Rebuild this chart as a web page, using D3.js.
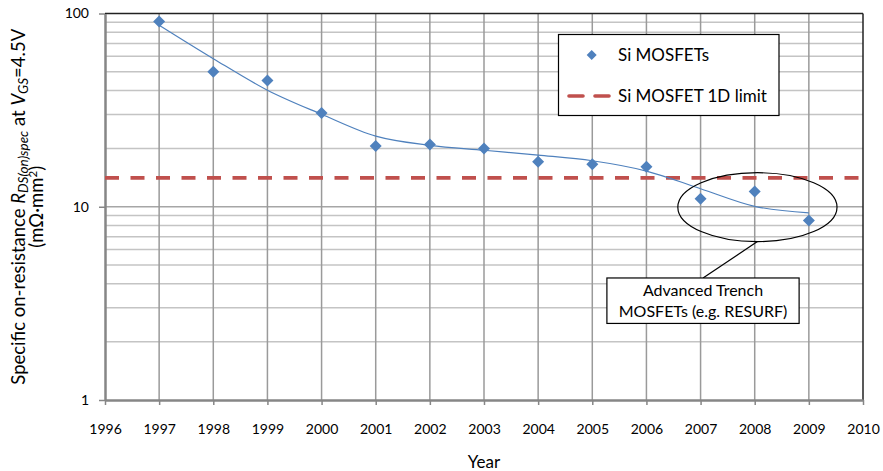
<!DOCTYPE html>
<html>
<head>
<meta charset="utf-8">
<script src="https://cdn.jsdelivr.net/npm/d3@7"></script>
<style>
  html, body { margin: 0; padding: 0; background: #fff; }
  svg { display: block; font-family: Lato, "Open Sans", sans-serif; }
</style>
</head>
<body>
<svg id="chart" width="883" height="471"></svg>
<script>
// Specific on-resistance of Si MOSFETs by year (log scale)
const years = [1997, 1998, 1999, 2000, 2001, 2002, 2003, 2004, 2005, 2006, 2007, 2008, 2009];
const rdsValues = [91, 50, 45, 30.6, 20.6, 21.0, 20.0, 17.1, 16.6, 16.1, 11.0, 12.0, 8.5];
// Smoothed trend through the measurements
const trendValues = [87, 58.4, 40.1, 30.1, 23.2, 20.8, 19.6, 18.5, 17.3, 15.3, 12.4, 10.05, 9.3];
// 1D silicon limit
const limitValue = 14.1;
const xTicks = [1996, 1997, 1998, 1999, 2000, 2001, 2002, 2003, 2004, 2005, 2006, 2007, 2008, 2009, 2010];
const yTicks = [1, 10, 100];

const blue = "#4F81BD";
const red = "#C0504D";

const svg = d3.select("#chart");
const plotL = 105, plotR = 863, plotT = 13.5, plotB = 400;

const x = d3.scaleLinear().domain([1996, 2010]).range([plotL, plotR]);
const y = d3.scaleLog().domain([1, 100]).range([plotB, plotT]);

// Horizontal grid at every 1..9 step of each decade
const gridVals = [];
for (const base of [1, 10]) for (let k = 2; k <= 9; k++) gridVals.push(base * k);
gridVals.push(10);
svg.append("g").selectAll("line").data(gridVals).join("line")
  .attr("x1", plotL).attr("x2", plotR)
  .attr("y1", d => y(d)).attr("y2", d => y(d))
  .attr("stroke", d => d === 10 ? "#a6a6a6" : "#c4c4c4").attr("stroke-width", 1.5);

// Vertical grid at each year
svg.append("g").selectAll("line").data(xTicks.filter(v => v > 1996 && v < 2010)).join("line")
  .attr("x1", d => x(d)).attr("x2", d => x(d))
  .attr("y1", plotT).attr("y2", plotB)
  .attr("stroke", "#9a9a9a").attr("stroke-width", 1.5);

// Plot frame: top and right edges
svg.append("line").attr("x1", plotL).attr("x2", plotR).attr("y1", plotT).attr("y2", plotT)
  .attr("stroke", "#222").attr("stroke-width", 1.5);
svg.append("line").attr("x1", plotR).attr("x2", plotR).attr("y1", plotT).attr("y2", plotB)
  .attr("stroke", "#222").attr("stroke-width", 1.5);

// Axes
const xAxis = svg.append("g").attr("transform", `translate(0,${plotB})`)
  .call(d3.axisBottom(x).tickValues(xTicks).tickFormat(d3.format("d")).tickSize(5).tickSizeOuter(0).tickPadding(19));
const yAxis = svg.append("g").attr("transform", `translate(${plotL},0)`)
  .call(d3.axisLeft(y).tickValues(yTicks).tickFormat(d3.format("d")).tickSize(6).tickSizeOuter(0).tickPadding(10));
for (const g of [xAxis, yAxis]) {
  g.select(".domain").attr("stroke", "#868686").attr("stroke-width", 2.5);
  g.selectAll(".tick line").attr("stroke", "#868686").attr("stroke-width", 1.5);
  g.selectAll(".tick text").attr("fill", "#000").style("font-size", "14px").style("font-family", "Lato, sans-serif");
}

// 1D limit line
svg.append("line")
  .attr("x1", x(1996)).attr("x2", x(2010))
  .attr("y1", y(limitValue)).attr("y2", y(limitValue))
  .attr("stroke", red).attr("stroke-width", 3.6).attr("stroke-dasharray", "14 11.5");

// Trend curve
const trendLine = d3.line().x((d, i) => x(years[i])).y(d => y(d)).curve(d3.curveMonotoneX);
svg.append("path").datum(trendValues)
  .attr("d", trendLine).attr("fill", "none").attr("stroke", blue).attr("stroke-width", 1.2);

// Data points (diamonds)
const diamond = d3.symbol().type(d3.symbolSquare).size(72);
svg.append("g").selectAll("path").data(rdsValues).join("path")
  .attr("d", diamond)
  .attr("transform", (d, i) => `translate(${x(years[i])},${y(d)}) rotate(45)`)
  .attr("fill", blue);

// Annotation: ellipse around the latest devices and callout box
const ell = { year: 2008.05, halfYears: 1.47, hi: 15, lo: 6.6 };
const ecx = x(ell.year), erx = x(ell.year + ell.halfYears) - ecx;
const ecy = (y(ell.hi) + y(ell.lo)) / 2, ery = (y(ell.lo) - y(ell.hi)) / 2;
svg.append("ellipse").attr("cx", ecx).attr("cy", ecy).attr("rx", erx).attr("ry", ery)
  .attr("fill", "none").attr("stroke", "#000").attr("stroke-width", 1.2);

const box = { x0: 2005.27, x1: 2008.82, vTop: 4.28, vBot: 2.49 };
const bx0 = x(box.x0), bx1 = x(box.x1), by0 = y(box.vTop), by1 = y(box.vBot);
svg.append("line")
  .attr("x1", (bx0 + bx1) / 2).attr("y1", by0)
  .attr("x2", ecx).attr("y2", ecy + ery)
  .attr("stroke", "#000").attr("stroke-width", 1.2);
svg.append("rect").attr("x", bx0).attr("y", by0).attr("width", bx1 - bx0).attr("height", by1 - by0)
  .attr("fill", "#fff").attr("stroke", "#000").attr("stroke-width", 1.2);
const callout = svg.append("text").attr("text-anchor", "middle").style("font-size", "16px");
callout.append("tspan").attr("x", (bx0 + bx1) / 2).attr("y", by0 + 18.5).text("Advanced Trench");
callout.append("tspan").attr("x", (bx0 + bx1) / 2).attr("y", by0 + 39.5).text("MOSFETs (e.g. RESURF)");

// Legend
const lg = svg.append("g");
lg.append("rect").attr("x", 558.5).attr("y", 34.5).attr("width", 220.5).attr("height", 81)
  .attr("fill", "#fff").attr("stroke", "#000").attr("stroke-width", 1.2);
lg.append("path").attr("d", d3.symbol().type(d3.symbolSquare).size(50))
  .attr("transform", "translate(591.7,55) rotate(45)").attr("fill", blue);
lg.append("text").attr("x", 618).attr("y", 61).style("font-size", "17px").text("Si MOSFETs");
lg.append("line").attr("x1", 569).attr("x2", 610).attr("y1", 96).attr("y2", 96)
  .attr("stroke", red).attr("stroke-width", 3.6).attr("stroke-dasharray", "14 12").attr("stroke-linecap", "round");
lg.append("text").attr("x", 618).attr("y", 102).style("font-size", "17px").text("Si MOSFET 1D limit");

// Axis titles
svg.append("text").attr("x", (plotL + plotR) / 2).attr("y", 468).attr("text-anchor", "middle")
  .style("font-size", "17px").text("Year");

const midY = (plotT + plotB) / 2;
const yt = svg.append("text").attr("transform", `translate(25,${midY}) rotate(-90)`)
  .attr("text-anchor", "middle").style("font-size", "18.5px");
yt.append("tspan").text("Specific on-resistance ");
yt.append("tspan").attr("font-style", "italic").text("R");
yt.append("tspan").attr("font-style", "italic").attr("dy", 3).style("font-size", "13.5px").text("DS(on)spec");
yt.append("tspan").attr("dy", -3).text(" at ");
yt.append("tspan").attr("font-style", "italic").text("V");
yt.append("tspan").attr("font-style", "italic").attr("dy", 3).style("font-size", "13.5px").text("GS");
yt.append("tspan").attr("dy", -3).text("=4.5V");

const yt2 = svg.append("text").attr("transform", `translate(43,${midY}) rotate(-90)`)
  .attr("text-anchor", "middle").style("font-size", "18.5px");
yt2.append("tspan").text("(mΩ·mm");
yt2.append("tspan").attr("dy", -6).style("font-size", "11.5px").text("2");
yt2.append("tspan").attr("dy", 6).text(")");
</script>
</body>
</html>
